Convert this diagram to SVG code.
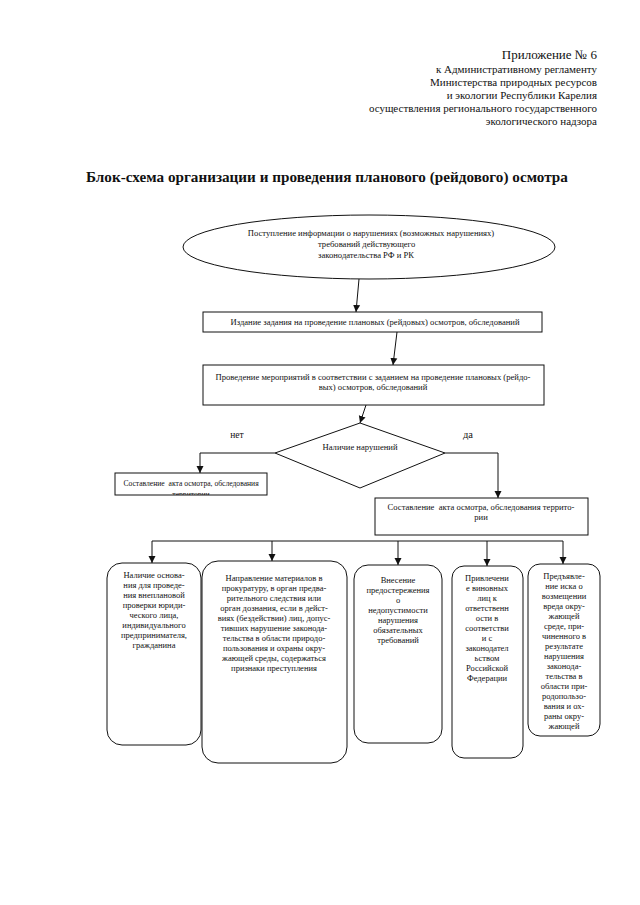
<svg xmlns="http://www.w3.org/2000/svg" width="640" height="905" viewBox="0 0 640 905">
<style>
.t{font-family:"Liberation Serif","Times New Roman",serif;fill:#111}
.h{font-size:11px;text-anchor:end}
.s{font-size:8.6px}
.c{text-anchor:middle}
.b{font-size:8.5px;text-anchor:middle}
.shape{fill:#fff;stroke:#111;stroke-width:1}
.ln{fill:none;stroke:#111;stroke-width:1}
</style>
<defs>
<marker id="ah" markerWidth="7" markerHeight="8" refX="7" refY="4" orient="auto" markerUnits="userSpaceOnUse">
<path d="M0,0.5 L7,4 L0,7.5 Z" fill="#111"/>
</marker>
<clipPath id="clipL"><rect x="115" y="473" width="152" height="22"/></clipPath>
</defs>
<rect width="640" height="905" fill="#fff"/>
<g id="header">
<text class="t" x="597" y="59" style="font-size:13px;text-anchor:end">Приложение № 6</text>
<text class="t h" x="597" y="73">к Административному регламенту</text>
<text class="t h" x="597" y="86">Министерства природных ресурсов</text>
<text class="t h" x="597" y="99">и экологии Республики Карелия</text>
<text class="t h" x="597" y="112">осуществления регионального государственного</text>
<text class="t h" x="597" y="125">экологического надзора</text>
</g>
<text class="t" x="86" y="182" style="font-size:15.2px;font-weight:bold">Блок-схема организации и проведения планового (рейдового) осмотра</text>
<g id="n1">
<ellipse class="shape" cx="369" cy="247" rx="186" ry="32"/>
<text class="t s c" x="371" y="236">Поступление информации о нарушениях (возможных нарушениях)</text>
<text class="t s" x="318" y="247">требований действующего</text>
<text class="t s" x="318" y="258">законодательства РФ и РК</text>
</g>
<g id="n2">
<rect class="shape" x="203" y="312" width="339" height="20"/>
<text class="t s c" x="375" y="325">Издание задания на проведение плановых (рейдовых) осмотров, обследований</text>
</g>
<g id="n3">
<rect class="shape" x="203" y="365" width="341" height="40"/>
<text class="t s c" x="373" y="380">Проведение мероприятий в соответствии с заданием на проведение плановых (рейдо-</text>
<text class="t s c" x="373" y="390">вых) осмотров, обследований</text>
</g>
<g id="n4">
<polygon class="shape" points="360,423 445,453 360,488 275,453"/>
<text class="t s c" x="360" y="450">Наличие нарушений</text>
</g>
<text class="t" x="237" y="438" style="font-size:9.5px;text-anchor:middle">нет</text>
<text class="t" x="468" y="438" style="font-size:10.5px;text-anchor:middle">да</text>
<g id="n5">
<rect class="shape" x="115" y="473" width="152" height="22"/>
<text class="t c" x="191" y="486" style="font-size:7.6px" xml:space="preserve">Составление  акта осмотра, обследования</text>
<text class="t c" x="191" y="497" style="font-size:7.6px" clip-path="url(#clipL)">территории</text>
</g>
<g id="n6">
<rect class="shape" x="375" y="498" width="213" height="37"/>
<text class="t s c" x="481" y="510" xml:space="preserve">Составление  акта осмотра, обследования террито-</text>
<text class="t s c" x="481" y="520">рии</text>
</g>
<g id="n7">
<rect class="shape" x="107" y="563" width="94" height="182" rx="15" ry="15"/>
<text class="t b" x="154" y="578">Наличие основа-</text>
<text class="t b" x="154" y="588">ния для проведе-</text>
<text class="t b" x="154" y="598">ния внеплановой</text>
<text class="t b" x="154" y="608">проверки юриди-</text>
<text class="t b" x="154" y="618">ческого лица,</text>
<text class="t b" x="154" y="628">индивидуального</text>
<text class="t b" x="154" y="638">предпринимателя,</text>
<text class="t b" x="154" y="648">гражданина</text>
</g>
<g id="n8">
<rect class="shape" x="202" y="561" width="145" height="202" rx="16" ry="16"/>
<text class="t b" x="274" y="581">Направление материалов в</text>
<text class="t b" x="274" y="591">прокуратуру, в орган предва-</text>
<text class="t b" x="274" y="601">рительного следствия или</text>
<text class="t b" x="274" y="611">орган дознания, если в дейст-</text>
<text class="t b" x="274" y="621">виях (бездействии) лиц, допус-</text>
<text class="t b" x="274" y="631">тивших нарушение законода-</text>
<text class="t b" x="274" y="641">тельства в области природо-</text>
<text class="t b" x="274" y="651">пользования и охраны окру-</text>
<text class="t b" x="274" y="661">жающей среды, содержаться</text>
<text class="t b" x="274" y="671">признаки преступления</text>
</g>
<g id="n9">
<rect class="shape" x="354" y="565" width="88" height="178" rx="14" ry="14"/>
<text class="t b" x="398" y="583">Внесение</text>
<text class="t b" x="398" y="593">предостережения</text>
<text class="t b" x="398" y="603">о</text>
<text class="t b" x="398" y="613">недопустимости</text>
<text class="t b" x="398" y="623">нарушения</text>
<text class="t b" x="398" y="633">обязательных</text>
<text class="t b" x="398" y="643">требований</text>
</g>
<g id="n10">
<rect class="shape" x="452" y="566" width="71" height="192" rx="12" ry="12"/>
<text class="t b" x="487" y="581">Привлечени</text>
<text class="t b" x="487" y="591">е виновных</text>
<text class="t b" x="487" y="601">лиц к</text>
<text class="t b" x="487" y="611">ответственн</text>
<text class="t b" x="487" y="621">ости в</text>
<text class="t b" x="487" y="631">соответстви</text>
<text class="t b" x="487" y="641">и с</text>
<text class="t b" x="487" y="651">законодател</text>
<text class="t b" x="487" y="661">ьством</text>
<text class="t b" x="487" y="671">Российской</text>
<text class="t b" x="487" y="681">Федерации</text>
</g>
<g id="n11">
<rect class="shape" x="528" y="564" width="72" height="172" rx="12" ry="12"/>
<text class="t b" x="564" y="579">Предъявле-</text>
<text class="t b" x="564" y="589">ние иска о</text>
<text class="t b" x="564" y="599">возмещении</text>
<text class="t b" x="564" y="609">вреда окру-</text>
<text class="t b" x="564" y="619">жающей</text>
<text class="t b" x="564" y="629">среде, при-</text>
<text class="t b" x="564" y="639">чиненного в</text>
<text class="t b" x="564" y="649">результате</text>
<text class="t b" x="564" y="659">нарушения</text>
<text class="t b" x="564" y="669">законода-</text>
<text class="t b" x="564" y="679">тельства в</text>
<text class="t b" x="564" y="689">области при-</text>
<text class="t b" x="564" y="699">родопользо-</text>
<text class="t b" x="564" y="709">вания и ох-</text>
<text class="t b" x="564" y="719">раны окру-</text>
<text class="t b" x="564" y="729">жающей</text>
</g>
<g id="connectors">
<line class="ln" x1="359" y1="279" x2="356" y2="312" marker-end="url(#ah)"/>
<line class="ln" x1="397" y1="332" x2="393" y2="365" marker-end="url(#ah)"/>
<line class="ln" x1="366" y1="405" x2="360" y2="423" marker-end="url(#ah)"/>
<polyline class="ln" points="275,453 200,453 200,473" marker-end="url(#ah)"/>
<polyline class="ln" points="445,453 498,453 498,498" marker-end="url(#ah)"/>
<line class="ln" x1="152" y1="541" x2="563" y2="541"/>
<line class="ln" x1="152" y1="541" x2="152" y2="563" marker-end="url(#ah)"/>
<line class="ln" x1="272" y1="541" x2="272" y2="561" marker-end="url(#ah)"/>
<line class="ln" x1="398" y1="541" x2="398" y2="565" marker-end="url(#ah)"/>
<line class="ln" x1="487" y1="541" x2="487" y2="566" marker-end="url(#ah)"/>
<line class="ln" x1="563" y1="541" x2="563" y2="564" marker-end="url(#ah)"/>
</g>
</svg>
